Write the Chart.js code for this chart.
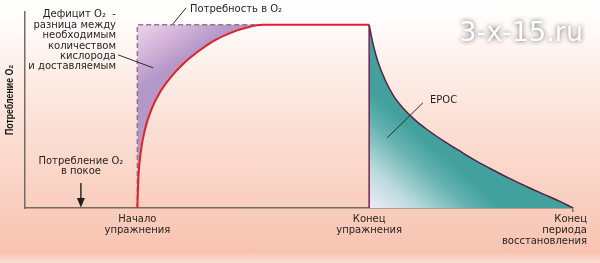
<!DOCTYPE html>
<html>
<head>
<meta charset="utf-8">
<script src="https://cdn.jsdelivr.net/npm/chart.js@4/dist/chart.umd.min.js"></script>
<style>
  html, body { margin: 0; padding: 0; }
  body {
    width: 600px; height: 263px; overflow: hidden;
    background: linear-gradient(to bottom, #ffffff 0%, #fffaf8 12%, #fde8e0 35%, #fad6c8 65%, #f8c7b5 90%, #f7c3b0 96%, #fbdfd4 100%);
  }
  canvas { display: block; }
</style>
</head>
<body>
<canvas id="myChart" width="600" height="263"></canvas>
<script>
  // phases of the exercise (x units, arbitrary time)
  const exerciseStart = 20.5;
  const exerciseEnd = 62.8;
  const recoveryEnd = 100;
  const demandLevel = 100;

  // O2 uptake during exercise (red curve)
  const uptakeTime  = [20.5, 20.7, 21.1, 21.9, 23.1, 24.6, 26.5, 28.8, 31.4, 34.3, 37.4, 40.5, 43.4, 62.8];
  const uptakeLevel = [0, 17, 30, 43, 54, 63, 71, 78.5, 85, 91, 95.5, 98.5, 100, 100];

  // O2 demand (dashed)
  const demandTime  = [20.5, 20.5, 43.4];
  const demandValue = [0, 100, 100];

  // recovery, EPOC
  const epocTime  = [62.8, 63.6, 64.5, 65.7, 67.2, 69.0, 71.2, 73.3, 76.3, 79.4, 82.4, 85.5, 88.5, 91.6, 94.6, 97.6, 100];
  const epocLevel = [100, 88.5, 79, 70, 61.5, 54.5, 48, 43, 36.8, 31, 25.6, 20.6, 16, 11.6, 7.6, 3.6, 0];

  const endLineTime  = [62.8, 62.8];
  const endLineValue = [0, 100];

  const phaseTicks  = [exerciseStart, exerciseEnd, recoveryEnd];
  const phaseLabels = [['Начало', 'упражнения'], ['Конец', 'упражнения'], ['Конец', 'периода', 'восстановления']];
  const yTitle = 'Потребление O₂';
  const deficitText = ['Дефицит O₂  -', 'разница между', 'необходимым', 'количеством', 'кислорода', 'и доставляемым'];
  const demandText = 'Потребность в O₂';
  const restText = ['Потребление O₂', 'в покое'];
  const epocText = 'EPOC';
  const watermark = '3-x-15.ru';

  const pts = (xs, ys) => xs.map((x, i) => ({x: x, y: ys[i]}));

  function deficitFill(context) {
    const chart = context.chart;
    if (!chart.chartArea) return 'rgba(200,170,210,0.8)';
    const x0 = chart.scales.x.getPixelForValue(exerciseStart);
    const y0 = chart.scales.y.getPixelForValue(demandLevel);
    const g = chart.ctx.createLinearGradient(x0, y0, x0 + 30, y0 + 45);
    g.addColorStop(0, '#ebd4ea');
    g.addColorStop(0.5, '#d5b5da');
    g.addColorStop(1, '#b498c8');
    return g;
  }

  function epocFill(context) {
    const chart = context.chart;
    if (!chart.chartArea) return '#5fb0ae';
    const x0 = chart.scales.x.getPixelForValue(exerciseEnd);
    const y0 = chart.scales.y.getPixelForValue(0);
    const g = chart.ctx.createLinearGradient(x0, y0, x0 + 58, y0 - 66);
    g.addColorStop(0, '#ececf8');
    g.addColorStop(0.35, '#bddbde');
    g.addColorStop(0.75, '#66b3b1');
    g.addColorStop(1, '#42a19d');
    return g;
  }

  const annotations = {
    id: 'annotations',
    afterDraw(chart) {
      const ctx = chart.ctx;
      const xs = chart.scales.x, ys = chart.scales.y, area = chart.chartArea;
      const px = v => xs.getPixelForValue(v), py = v => ys.getPixelForValue(v);
      ctx.save();
      ctx.fillStyle = '#231f20';
      ctx.strokeStyle = '#2b2b2b';
      ctx.textBaseline = 'middle';
      ctx.font = '10px "DejaVu Sans"';

      // deficit label
      ctx.textAlign = 'right';
      deficitText.forEach((t, i) => ctx.fillText(t, px(16.6), py(105.5) + i * 10.4));
      ctx.lineWidth = 1;
      ctx.beginPath(); ctx.moveTo(px(17.0), py(83.6)); ctx.lineTo(px(23.4), py(76.5)); ctx.stroke();

      // demand label
      ctx.textAlign = 'left';
      ctx.fillText(demandText, px(30.1), py(108.5));
      ctx.beginPath(); ctx.moveTo(px(27.0), py(100.5)); ctx.lineTo(px(29.4), py(109.3)); ctx.stroke();

      // EPOC label
      ctx.fillText(epocText, px(73.9), py(58.5));
      ctx.beginPath(); ctx.moveTo(px(72.6), py(57.4)); ctx.lineTo(px(66.1), py(38.3)); ctx.stroke();

      // rest uptake label and arrow
      ctx.textAlign = 'center';
      restText.forEach((t, i) => ctx.fillText(t, px(10.2), py(25.7) + i * 10.5));
      const ax = px(10.2);
      ctx.lineWidth = 1.5;
      ctx.beginPath(); ctx.moveTo(ax, py(13.7)); ctx.lineTo(ax, py(4)); ctx.stroke();
      ctx.beginPath();
      ctx.moveTo(ax - 4, py(5.5)); ctx.lineTo(ax + 4, py(5.5)); ctx.lineTo(ax, py(0.3)); ctx.closePath();
      ctx.fill();

      // phase labels under the x axis
      phaseTicks.forEach((v, i) => {
        const last = i === phaseTicks.length - 1;
        ctx.textAlign = last ? 'right' : 'center';
        const x = last ? px(v) + 14 : px(v);
        phaseLabels[i].forEach((t, j) => ctx.fillText(t, x, area.bottom + 11 + j * 11.2));
      });

      // y axis title
      ctx.save();
      ctx.translate(area.left - 15, py(59));
      ctx.rotate(-Math.PI / 2);
      ctx.scale(0.8, 1);
      ctx.textAlign = 'center';
      ctx.font = 'bold 11px "Liberation Sans"';
      ctx.fillStyle = '#111';
      ctx.fillText(yTitle, 0, 0);
      ctx.restore();

      // watermark
      ctx.textAlign = 'right';
      ctx.font = '27px "DejaVu Sans"';
      ctx.shadowColor = 'rgba(60,60,60,0.85)';
      ctx.shadowBlur = 5;
      ctx.fillStyle = '#ffffff';
      ctx.fillText(watermark, 583, 34);
      ctx.restore();
    }
  };

  const data = {
    datasets: [
      {
        data: pts(endLineTime, endLineValue),
        borderColor: '#7d1f52', borderWidth: 1.5, pointRadius: 0, fill: false, order: 0
      },
      {
        data: pts(uptakeTime, uptakeLevel),
        borderColor: '#e2202b', borderWidth: 2, pointRadius: 0,
        cubicInterpolationMode: 'monotone',
        fill: {value: demandLevel},
        backgroundColor: deficitFill,
        order: 1
      },
      {
        data: pts(demandTime, demandValue),
        borderColor: '#8a7b89', borderWidth: 1.5, borderDash: [5, 3], pointRadius: 0, fill: false, order: 2
      },
      {
        data: pts(epocTime, epocLevel),
        borderColor: '#52234a', borderWidth: 1.5, pointRadius: 0,
        cubicInterpolationMode: 'monotone',
        fill: 'origin',
        backgroundColor: epocFill,
        order: 3
      }
    ]
  };

  const config = {
    type: 'line',
    data: data,
    options: {
      responsive: false,
      animation: false,
      events: [],
      layout: { padding: { left: 25, right: 27, top: 12, bottom: 51 } },
      plugins: {
        legend: { display: false },
        tooltip: { enabled: false },
        filler: { drawTime: 'beforeDatasetsDraw' }
      },
      scales: {
        x: {
          type: 'linear', min: 0, max: recoveryEnd,
          ticks: { display: false },
          grid: {
            drawOnChartArea: false, drawTicks: true, tickLength: 4, lineWidth: 1.5,
            color: c => (c.tick && c.tick.value === recoveryEnd) ? '#766b6b' : 'rgba(0,0,0,0)'
          },
          border: { display: true, color: '#766b6b', width: 1.5 }
        },
        y: {
          min: 0, max: 107,
          ticks: { display: false },
          grid: { display: false, drawTicks: false },
          border: { display: true, color: '#766b6b', width: 1.5 }
        }
      }
    },
    plugins: [annotations]
  };

  const myChart = new Chart(document.getElementById('myChart'), config);
</script>
</body>
</html>
